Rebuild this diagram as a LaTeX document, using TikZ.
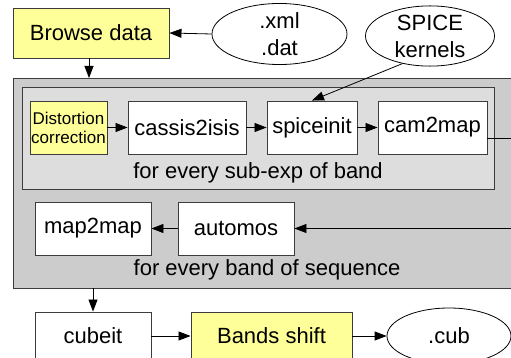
\documentclass[tikz,border=0pt]{standalone}
\usepackage{fontspec}
\setmainfont{Liberation Sans}
\usetikzlibrary{shapes.geometric,arrows.meta}
\definecolor{paleyellow}{RGB}{255,255,153}
\definecolor{outergray}{RGB}{204,204,204}
\definecolor{innergray}{RGB}{221,221,221}
\definecolor{edgegray}{RGB}{60,60,60}
\tikzset{
  box/.style={draw=edgegray, line width=0.9pt, fill=white, inner sep=0pt, font=\fontsize{22}{26}\selectfont},
  ybox/.style={box, fill=paleyellow},
  oval/.style={ellipse, draw=black, line width=0.8pt, fill=white, inner sep=0pt, align=center, font=\fontsize{22}{27}\selectfont},
  conn/.style={draw=black, line width=0.8pt, -{Triangle[length=12pt,width=9pt]}},
  plain/.style={draw=black, line width=0.8pt},
  lbl/.style={inner sep=0pt, font=\fontsize{22}{26}\selectfont}
}
\begin{document}
\begin{tikzpicture}[x=1pt,y=-1pt]
\useasboundingbox (0,0) rectangle (511,358);
\clip (0,0) rectangle (511,358);
\fill[white] (0,0) rectangle (511,358);
% containers
\node[draw=edgegray, line width=0.9pt, fill=outergray, minimum width=517pt, minimum height=210pt, inner sep=0pt] (outer) at (271.5,183) {};
\node[draw=edgegray, line width=0.9pt, fill=innergray, minimum width=472pt, minimum height=102pt, inner sep=0pt] (inner) at (258,138) {};
\node[lbl] (subexp) at (258,173) {for every sub-exp of band};
\node[lbl] (bandseq) at (267,270) {for every band of sequence};
% top row
\node[ybox, minimum width=156pt, minimum height=50pt] (browse) at (91,33) {Browse data};
\node[oval, minimum width=135pt, minimum height=53pt] (xml) at (279.5,34) {.xml\\.dat};
\node[oval, minimum width=129pt, minimum height=52pt] (spice) at (430,36) {SPICE\\kernels};
% inner row
\node[ybox, minimum width=77pt, minimum height=53pt, align=center, font=\fontsize{17}{19}\selectfont] (dist) at (68.5,127.5) {Distortion\\correction};
\node[box, minimum width=118pt, minimum height=53pt] (cassis) at (187,127.5) {cassis2isis};
\node[box, minimum width=90pt, minimum height=53pt] (spiceinit) at (312,127.5) {spiceinit};
\node[box, minimum width=109pt, minimum height=53pt] (cam) at (432.5,127.5) {cam2map};
% second row
\node[box, minimum width=116pt, minimum height=53pt] (map2map) at (93,228.5) {map2map};
\node[box, minimum width=116pt, minimum height=53pt] (automos) at (236,228.5) {automos};
% bottom row
\node[box, minimum width=116pt, minimum height=48pt] (cubeit) at (93,336) {cubeit};
\node[ybox, minimum width=161pt, minimum height=48pt] (shift) at (271.5,336) {Bands shift};
\node[oval, minimum width=124pt, minimum height=56pt] (cub) at (449,336) {.cub};
% free ends
\coordinate (loopA) at (530,138);
\coordinate (loopB) at (530,228.5);
% connectors
\draw[conn] (xml.west) -- (browse.east);
\draw[conn] (browse.south -| 89,0) -- (89,78);
\draw[conn] (spice.225) -- (spiceinit.north);
\draw[conn] (dist) -- (cassis);
\draw[conn] (cassis) -- (spiceinit);
\draw[conn] (spiceinit) -- (cam);
\draw[plain] (cam.east |- loopA) -- (loopA);
\draw[conn] (loopB) -- (automos.east);
\draw[conn] (automos) -- (map2map);
\draw[conn] (outer.south -| cubeit) -- (cubeit.north);
\draw[conn] (cubeit) -- (shift);
\draw[conn] (shift) -- (cub);
\end{tikzpicture}
\end{document}
